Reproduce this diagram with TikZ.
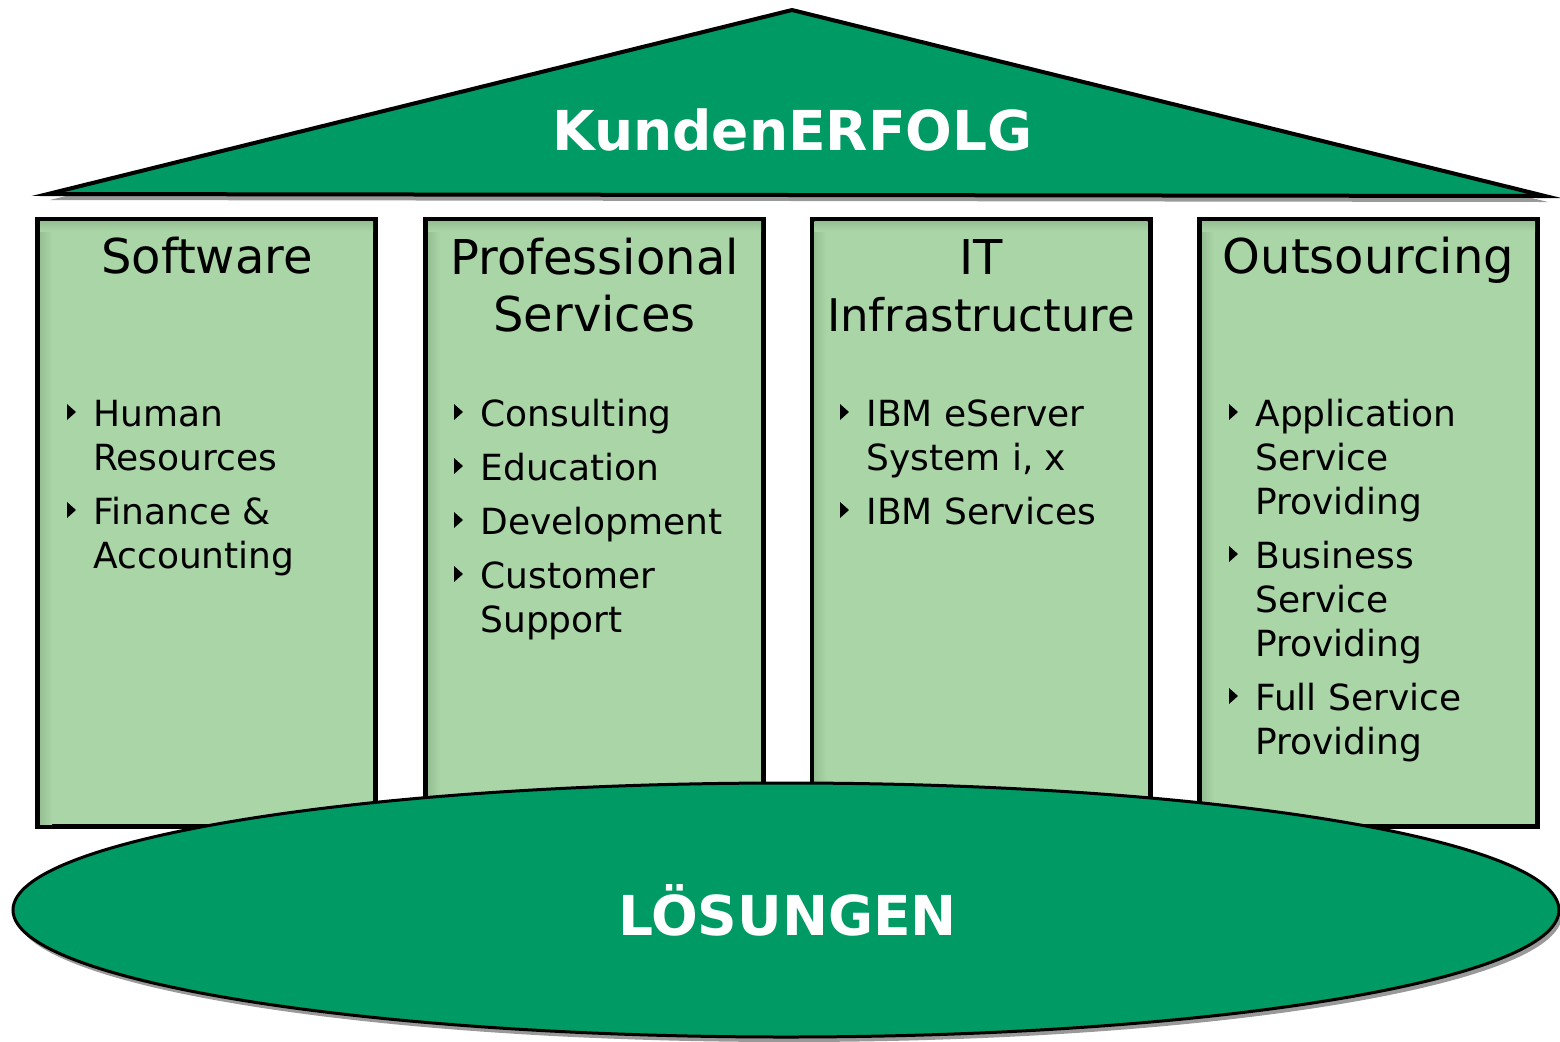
\documentclass[tikz,border=0pt]{standalone}
\usepackage{fontspec}
\setmainfont{DejaVu Sans}
\usetikzlibrary{shapes.geometric,shadows}
\definecolor{dkgreen}{RGB}{0,154,100}
\definecolor{ltgreen}{RGB}{170,213,167}
\definecolor{colshade}{RGB}{150,192,147}
% #1 node name, #2 vertical distance (px) from the node's last baseline up to its first baseline
\newcommand\mybullet[2]{\fill ([shift={(-26,-22-#2)}]#1.base west) -- ++(0,16) -- ++(9,-8) -- cycle;}
% inner edge shading of a column (anchors lie on the outer edge of the 5px border)
\newcommand\colshading[1]{%
  \shade[left color=colshade, right color=ltgreen] ([shift={(5,5)}]#1.north west) rectangle ([shift={(17,-5)}]#1.south west);
  \shade[top color=colshade, bottom color=ltgreen] ([shift={(5,5)}]#1.north west) rectangle ([shift={(-5,15)}]#1.north east);}
\begin{document}
\begin{tikzpicture}[x=0.5pt,y=-0.5pt,
  col/.style={draw=black, line width=2.5pt, fill=ltgreen, minimum width=169pt, minimum height=303.75pt, inner sep=0pt},
  coltitle/.style={font=\fontsize{24}{28.5}\selectfont, align=center, inner sep=0pt, anchor=base},
  item/.style={font=\fontsize{18}{22}\selectfont, align=left, inner sep=0pt, anchor=base west},
  bigtxt/.style={font=\fontsize{27.5}{33}\selectfont\bfseries, text=white, inner sep=0pt, anchor=base},
]
\useasboundingbox (0,0) rectangle (1560,1041);
% roof
\fill[black!40, line width=2pt, line join=miter] (50,200) -- (794,16) -- (1548,202) -- cycle;
\draw[line width=2pt, fill=dkgreen, line join=miter] (48,194) -- (792,10) -- (1545,196) -- cycle;
\node[bigtxt] (roof) at (792.5,150) {KundenERFOLG};
% columns
\node[col] (c1) at (206.5,522.75) {};
\node[col] (c2) at (594.5,522.75) {};
\node[col] (c3) at (981,522.75) {};
\node[col] (c4) at (1368.5,522.75) {};
\colshading{c1}\colshading{c2}\colshading{c3}\colshading{c4}
% titles (anchor = baseline of the last line)
\node[coltitle] (t1) at (207,273) {Software};
\node[coltitle] (t2) at (594.5,331) {Professional\\Services};
\node[coltitle] (t3) at (981,331) {IT\\{\fontsize{22.5}{28.5}\selectfont Infrastructure}};
\node[coltitle] (t4) at (1368.5,273) {Outsourcing};
% items
\node[item] (a1) at (93,470) {Human\\Resources};
\node[item] (a2) at (93,568) {Finance \&\\Accounting};
\node[item] (b1) at (480,426) {Consulting};
\node[item] (b2) at (480,480) {Education};
\node[item] (b3) at (480,534) {Development};
\node[item] (b4) at (480,632) {Customer\\Support};
\node[item] (d1) at (866,470) {IBM eServer\\System i, x};
\node[item] (d2) at (866,524) {IBM Services};
\node[item] (e1) at (1255,514) {Application\\Service\\Providing};
\node[item] (e2) at (1255,656) {Business\\Service\\Providing};
\node[item] (e3) at (1255,754) {Full Service\\Providing};
\mybullet{a1}{44} \mybullet{a2}{44}
\mybullet{b1}{0} \mybullet{b2}{0} \mybullet{b3}{0} \mybullet{b4}{44}
\mybullet{d1}{44} \mybullet{d2}{0}
\mybullet{e1}{88} \mybullet{e2}{88} \mybullet{e3}{44}
% base ellipse
\node[ellipse, draw=black, line width=1.5pt, fill=dkgreen, minimum width=773pt, minimum height=127pt, inner sep=0pt,
  drop shadow={shadow xshift=1.5pt, shadow yshift=-2.5pt, fill=black!40, opacity=1}] (base) at (786,910) {};
\node[bigtxt] (basetxt) at (787.5,935) {LÖSUNGEN};
\end{tikzpicture}
\end{document}
